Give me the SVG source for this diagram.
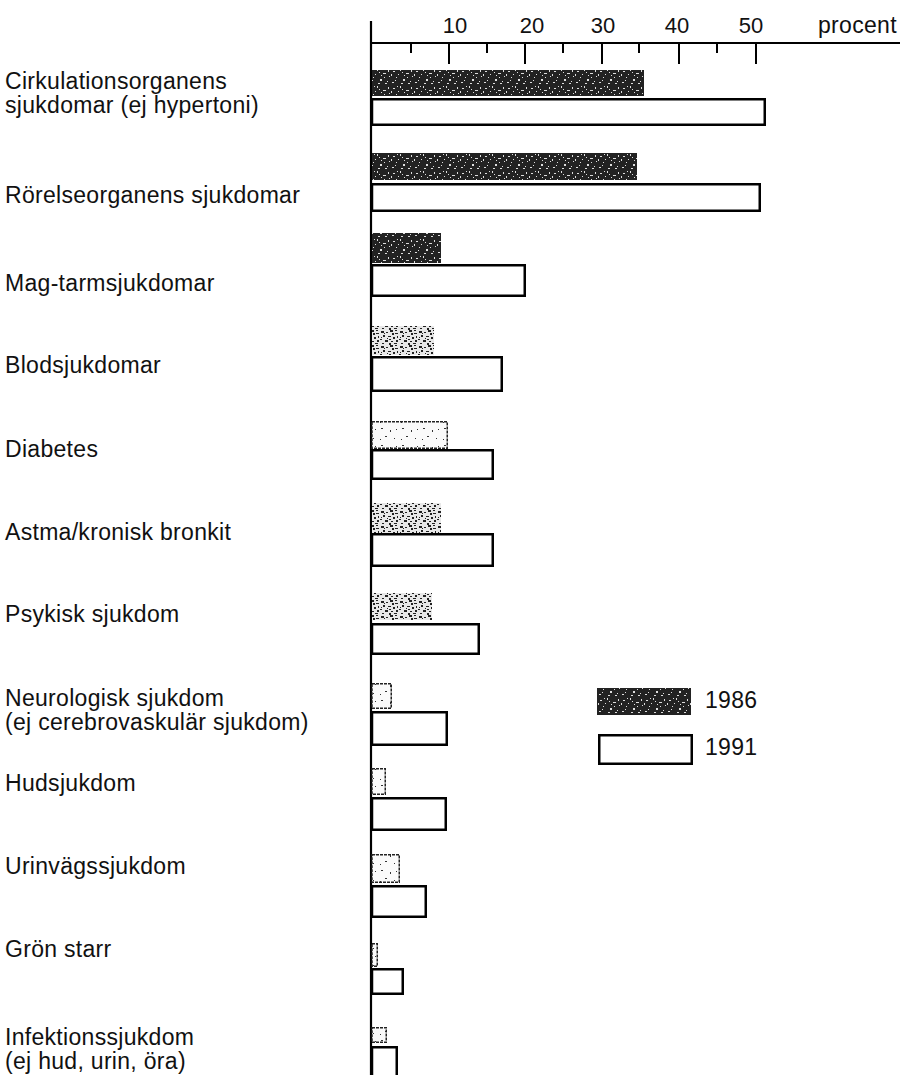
<svg xmlns="http://www.w3.org/2000/svg" width="900" height="1075" viewBox="0 0 900 1075">
<style>
text{font-family:"Liberation Sans",Arial,Helvetica,sans-serif;fill:#111}
.lbl{font-size:23px;letter-spacing:0.3px}
.num{font-size:22px;text-anchor:middle}
.ax{stroke:#000;stroke-width:2.2;fill:none}
.tk{stroke:#000;stroke-width:2;fill:none}
.w{fill:#fff;stroke:#000;stroke-width:2.5}
.d{fill:url(#pDark)}
.m{fill:url(#pMid)}
.l{fill:url(#pLight);stroke:#222;stroke-width:1.5;stroke-dasharray:3 1}
</style>
<defs>
<pattern id="pDark" width="23" height="17" patternUnits="userSpaceOnUse">
<rect width="23" height="17" fill="#222"/>
<path d="M2 3h2v1h-2zM9 1h1v2h-1zM15 5h3v1h-3zM5 9h1v1h-1zM12 11h2v2h-2zM19 13h1v1h-1zM1 14h2v1h-2zM7 6h1v1h-1zM20 2h1v2h-1zM16 9h1v1h-1zM10 15h2v1h-2zM4 12h1v1h-1zM13 7h1v1h-1zM21 8h1v1h-1zM6 1h1v1h-1zM17 15h2v1h-2zM0 6h1v2h-1zM11 4h1v1h-1z" fill="#ddd"/>
</pattern>
<pattern id="pMid" width="19" height="15" patternUnits="userSpaceOnUse">
<rect width="19" height="15" fill="#e8e8e8"/>
<path d="M1 1h3v2h-3zM6 2h2v1h-2zM10 0h3v2h-3zM15 3h3v1h-3zM3 5h2v2h-2zM8 6h3v1h-3zM13 7h2v2h-2zM0 9h2v1h-2zM5 10h3v2h-3zM11 11h2v1h-2zM16 10h2v2h-2zM2 13h2v1h-2zM9 13h2v2h-2zM14 13h3v1h-3zM17 6h1v2h-1zM7 8h1v1h-1zM4 3h1v1h-1zM12 3h2v2h-2zM1 7h1v1h-1zM15 0h2v1h-2zM9 9h2v1h-2z" fill="#222"/>
</pattern>
<pattern id="pLight" width="21" height="17" patternUnits="userSpaceOnUse">
<rect width="21" height="17" fill="#fafafa"/>
<path d="M3 3h2v1h-2zM12 5h1v2h-1zM7 11h2v1h-2zM16 13h1v1h-1zM18 4h1v1h-1zM2 14h1v1h-1z" fill="#333"/>
</pattern>
</defs>

<g id="axes">
<line class="ax" x1="371" y1="21" x2="371" y2="1075"/>
<line class="ax" x1="370" y1="43" x2="900" y2="43"/>
<g id="ticks">
<line class="tk" x1="449" y1="43" x2="449" y2="64"/>
<line class="tk" x1="525" y1="43" x2="525" y2="64"/>
<line class="tk" x1="602" y1="43" x2="602" y2="64"/>
<line class="tk" x1="679" y1="43" x2="679" y2="64"/>
<line class="tk" x1="756" y1="43" x2="756" y2="64"/>
<line class="tk" x1="411" y1="43" x2="411" y2="53"/>
<line class="tk" x1="487" y1="43" x2="487" y2="53"/>
<line class="tk" x1="563" y1="43" x2="563" y2="53"/>
<line class="tk" x1="639" y1="43" x2="639" y2="53"/>
<line class="tk" x1="717" y1="43" x2="717" y2="53"/>
</g>
<text class="num" x="455" y="33">10</text>
<text class="num" x="532" y="33">20</text>
<text class="num" x="603" y="33">30</text>
<text class="num" x="677" y="33">40</text>
<text class="num" x="751" y="33">50</text>
<text class="lbl" x="818" y="33">procent</text>
</g>

<g id="cirkulation">
<text class="lbl" x="5" y="89">Cirkulationsorganens</text>
<text class="lbl" x="5" y="113">sjukdomar (ej hypertoni)</text>
<rect class="d" x="372" y="70" width="272" height="26"/>
<rect class="w" x="372" y="99.25" width="392.75" height="25.5"/>
</g>
<g id="rorelse">
<text class="lbl" x="5" y="203">Rörelseorganens sjukdomar</text>
<rect class="d" x="372" y="153" width="265" height="27"/>
<rect class="w" x="372" y="184.25" width="387.75" height="26.5"/>
</g>
<g id="magtarm">
<text class="lbl" x="5" y="291">Mag-tarmsjukdomar</text>
<rect class="d" x="372" y="233" width="69" height="30"/>
<rect class="w" x="372" y="265.25" width="152.75" height="30.5"/>
</g>
<g id="blod">
<text class="lbl" x="5" y="373">Blodsjukdomar</text>
<rect class="m" x="372" y="326" width="62" height="29"/>
<rect class="w" x="372" y="357.25" width="129.75" height="33.5"/>
</g>
<g id="diabetes">
<text class="lbl" x="5" y="457">Diabetes</text>
<rect class="l" x="372" y="421.75" width="75.25" height="26.5"/>
<rect class="w" x="372" y="450.25" width="120.75" height="28.5"/>
</g>
<g id="astma">
<text class="lbl" x="5" y="540">Astma/kronisk bronkit</text>
<rect class="m" x="372" y="503" width="69" height="30"/>
<rect class="w" x="372" y="534.25" width="120.75" height="31.5"/>
</g>
<g id="psykisk">
<text class="lbl" x="5" y="622">Psykisk sjukdom</text>
<rect class="m" x="372" y="593" width="60" height="27"/>
<rect class="w" x="372" y="624.25" width="106.75" height="29.5"/>
</g>
<g id="neurologisk">
<text class="lbl" x="5" y="706">Neurologisk sjukdom</text>
<text class="lbl" x="5" y="730">(ej cerebrovaskulär sjukdom)</text>
<rect class="l" x="372" y="683.75" width="19.25" height="24.5"/>
<rect class="w" x="372" y="712.25" width="74.75" height="32.5"/>
</g>
<g id="hud">
<text class="lbl" x="5" y="791">Hudsjukdom</text>
<rect class="l" x="372" y="768.75" width="13.25" height="25.5"/>
<rect class="w" x="372" y="798.25" width="73.75" height="31.5"/>
</g>
<g id="urinvag">
<text class="lbl" x="5" y="874">Urinvägssjukdom</text>
<rect class="l" x="372" y="854.75" width="27.25" height="27.5"/>
<rect class="w" x="372" y="886.25" width="53.75" height="30.5"/>
</g>
<g id="gronstarr">
<text class="lbl" x="5" y="957">Grön starr</text>
<rect class="l" x="372" y="943.75" width="5.25" height="22.5"/>
<rect class="w" x="372" y="969.25" width="30.75" height="24.5"/>
</g>
<g id="infektion">
<text class="lbl" x="5" y="1045">Infektionssjukdom</text>
<text class="lbl" x="5" y="1069">(ej hud, urin, öra)</text>
<rect class="l" x="372" y="1027.75" width="14.25" height="14.5"/>
<rect class="w" x="372" y="1047.25" width="24.75" height="32"/>
</g>

<g id="legend">
<rect class="d" x="597" y="688" width="94" height="27"/>
<text class="lbl" x="705" y="708">1986</text>
<rect class="w" x="599.25" y="735.25" width="92.5" height="28.5"/>
<text class="lbl" x="705" y="755">1991</text>
</g>
</svg>
